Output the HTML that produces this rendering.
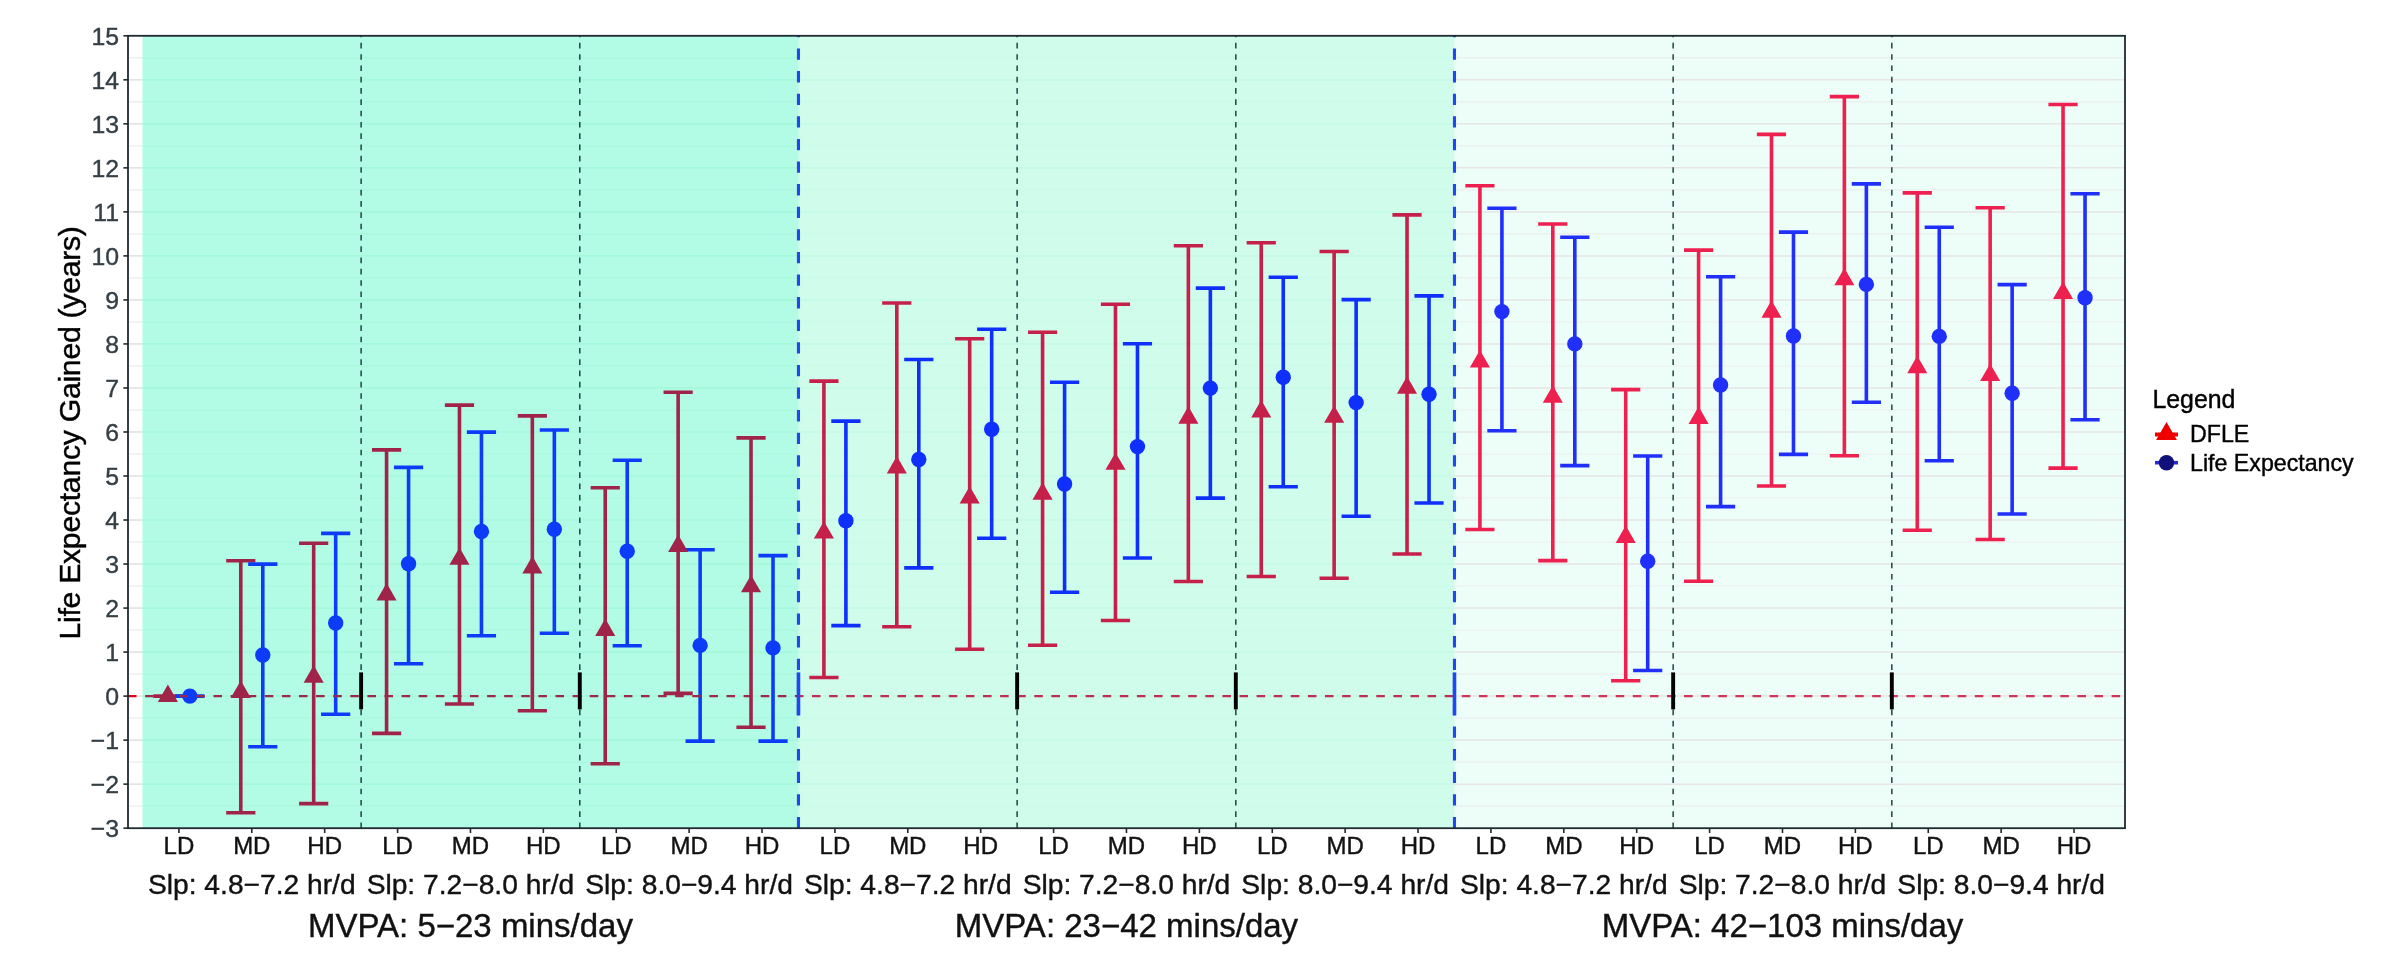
<!DOCTYPE html>
<html><head><meta charset="utf-8"><title>Life Expectancy Gained</title>
<style>
html,body{margin:0;padding:0;background:#fff;}
body{width:2395px;height:964px;overflow:hidden;font-family:"Liberation Sans",sans-serif;}
svg{will-change:transform;}
svg text{font-family:"Liberation Sans",sans-serif;stroke-width:.4px;paint-order:stroke;}
</style></head><body>
<svg width="2395" height="964" viewBox="0 0 2395 964" style="display:block">
<rect width="2395" height="964" fill="#fff"/>
<rect x="142.46" y="35.8" width="656.01" height="792.40" fill="rgb(0,245,168)" fill-opacity="0.3"/>
<rect x="798.47" y="35.8" width="656.01" height="792.40" fill="rgb(0,240,154)" fill-opacity="0.185"/>
<rect x="1454.48" y="35.8" width="670.52" height="792.40" fill="rgb(0,242,150)" fill-opacity="0.075"/>
<g><line x1="128.00" x2="142.46" y1="806.15" y2="806.15" stroke="#EBEBEB" stroke-width="1.2"/><line x1="128.00" x2="142.46" y1="784.14" y2="784.14" stroke="#E4E4E4" stroke-width="1.7"/><line x1="128.00" x2="142.46" y1="762.13" y2="762.13" stroke="#EBEBEB" stroke-width="1.2"/><line x1="128.00" x2="142.46" y1="740.12" y2="740.12" stroke="#E4E4E4" stroke-width="1.7"/><line x1="128.00" x2="142.46" y1="718.11" y2="718.11" stroke="#EBEBEB" stroke-width="1.2"/><line x1="128.00" x2="142.46" y1="696.10" y2="696.10" stroke="#E4E4E4" stroke-width="1.7"/><line x1="128.00" x2="142.46" y1="674.09" y2="674.09" stroke="#EBEBEB" stroke-width="1.2"/><line x1="128.00" x2="142.46" y1="652.08" y2="652.08" stroke="#E4E4E4" stroke-width="1.7"/><line x1="128.00" x2="142.46" y1="630.07" y2="630.07" stroke="#EBEBEB" stroke-width="1.2"/><line x1="128.00" x2="142.46" y1="608.06" y2="608.06" stroke="#E4E4E4" stroke-width="1.7"/><line x1="128.00" x2="142.46" y1="586.05" y2="586.05" stroke="#EBEBEB" stroke-width="1.2"/><line x1="128.00" x2="142.46" y1="564.04" y2="564.04" stroke="#E4E4E4" stroke-width="1.7"/><line x1="128.00" x2="142.46" y1="542.03" y2="542.03" stroke="#EBEBEB" stroke-width="1.2"/><line x1="128.00" x2="142.46" y1="520.02" y2="520.02" stroke="#E4E4E4" stroke-width="1.7"/><line x1="128.00" x2="142.46" y1="498.01" y2="498.01" stroke="#EBEBEB" stroke-width="1.2"/><line x1="128.00" x2="142.46" y1="476.00" y2="476.00" stroke="#E4E4E4" stroke-width="1.7"/><line x1="128.00" x2="142.46" y1="453.99" y2="453.99" stroke="#EBEBEB" stroke-width="1.2"/><line x1="128.00" x2="142.46" y1="431.98" y2="431.98" stroke="#E4E4E4" stroke-width="1.7"/><line x1="128.00" x2="142.46" y1="409.97" y2="409.97" stroke="#EBEBEB" stroke-width="1.2"/><line x1="128.00" x2="142.46" y1="387.96" y2="387.96" stroke="#E4E4E4" stroke-width="1.7"/><line x1="128.00" x2="142.46" y1="365.95" y2="365.95" stroke="#EBEBEB" stroke-width="1.2"/><line x1="128.00" x2="142.46" y1="343.94" y2="343.94" stroke="#E4E4E4" stroke-width="1.7"/><line x1="128.00" x2="142.46" y1="321.93" y2="321.93" stroke="#EBEBEB" stroke-width="1.2"/><line x1="128.00" x2="142.46" y1="299.92" y2="299.92" stroke="#E4E4E4" stroke-width="1.7"/><line x1="128.00" x2="142.46" y1="277.91" y2="277.91" stroke="#EBEBEB" stroke-width="1.2"/><line x1="128.00" x2="142.46" y1="255.90" y2="255.90" stroke="#E4E4E4" stroke-width="1.7"/><line x1="128.00" x2="142.46" y1="233.89" y2="233.89" stroke="#EBEBEB" stroke-width="1.2"/><line x1="128.00" x2="142.46" y1="211.88" y2="211.88" stroke="#E4E4E4" stroke-width="1.7"/><line x1="128.00" x2="142.46" y1="189.87" y2="189.87" stroke="#EBEBEB" stroke-width="1.2"/><line x1="128.00" x2="142.46" y1="167.86" y2="167.86" stroke="#E4E4E4" stroke-width="1.7"/><line x1="128.00" x2="142.46" y1="145.85" y2="145.85" stroke="#EBEBEB" stroke-width="1.2"/><line x1="128.00" x2="142.46" y1="123.84" y2="123.84" stroke="#E4E4E4" stroke-width="1.7"/><line x1="128.00" x2="142.46" y1="101.83" y2="101.83" stroke="#EBEBEB" stroke-width="1.2"/><line x1="128.00" x2="142.46" y1="79.82" y2="79.82" stroke="#E4E4E4" stroke-width="1.7"/><line x1="128.00" x2="142.46" y1="57.81" y2="57.81" stroke="#EBEBEB" stroke-width="1.2"/></g>
<g><line x1="142.46" x2="798.47" y1="806.15" y2="806.15" stroke="rgb(169,250,222)" stroke-width="1.2"/><line x1="142.46" x2="798.47" y1="784.14" y2="784.14" stroke="rgb(165,249,219)" stroke-width="1.7"/><line x1="142.46" x2="798.47" y1="762.13" y2="762.13" stroke="rgb(169,250,222)" stroke-width="1.2"/><line x1="142.46" x2="798.47" y1="740.12" y2="740.12" stroke="rgb(165,249,219)" stroke-width="1.7"/><line x1="142.46" x2="798.47" y1="718.11" y2="718.11" stroke="rgb(169,250,222)" stroke-width="1.2"/><line x1="142.46" x2="798.47" y1="696.10" y2="696.10" stroke="rgb(165,249,219)" stroke-width="1.7"/><line x1="142.46" x2="798.47" y1="674.09" y2="674.09" stroke="rgb(169,250,222)" stroke-width="1.2"/><line x1="142.46" x2="798.47" y1="652.08" y2="652.08" stroke="rgb(165,249,219)" stroke-width="1.7"/><line x1="142.46" x2="798.47" y1="630.07" y2="630.07" stroke="rgb(169,250,222)" stroke-width="1.2"/><line x1="142.46" x2="798.47" y1="608.06" y2="608.06" stroke="rgb(165,249,219)" stroke-width="1.7"/><line x1="142.46" x2="798.47" y1="586.05" y2="586.05" stroke="rgb(169,250,222)" stroke-width="1.2"/><line x1="142.46" x2="798.47" y1="564.04" y2="564.04" stroke="rgb(165,249,219)" stroke-width="1.7"/><line x1="142.46" x2="798.47" y1="542.03" y2="542.03" stroke="rgb(169,250,222)" stroke-width="1.2"/><line x1="142.46" x2="798.47" y1="520.02" y2="520.02" stroke="rgb(165,249,219)" stroke-width="1.7"/><line x1="142.46" x2="798.47" y1="498.01" y2="498.01" stroke="rgb(169,250,222)" stroke-width="1.2"/><line x1="142.46" x2="798.47" y1="476.00" y2="476.00" stroke="rgb(165,249,219)" stroke-width="1.7"/><line x1="142.46" x2="798.47" y1="453.99" y2="453.99" stroke="rgb(169,250,222)" stroke-width="1.2"/><line x1="142.46" x2="798.47" y1="431.98" y2="431.98" stroke="rgb(165,249,219)" stroke-width="1.7"/><line x1="142.46" x2="798.47" y1="409.97" y2="409.97" stroke="rgb(169,250,222)" stroke-width="1.2"/><line x1="142.46" x2="798.47" y1="387.96" y2="387.96" stroke="rgb(165,249,219)" stroke-width="1.7"/><line x1="142.46" x2="798.47" y1="365.95" y2="365.95" stroke="rgb(169,250,222)" stroke-width="1.2"/><line x1="142.46" x2="798.47" y1="343.94" y2="343.94" stroke="rgb(165,249,219)" stroke-width="1.7"/><line x1="142.46" x2="798.47" y1="321.93" y2="321.93" stroke="rgb(169,250,222)" stroke-width="1.2"/><line x1="142.46" x2="798.47" y1="299.92" y2="299.92" stroke="rgb(165,249,219)" stroke-width="1.7"/><line x1="142.46" x2="798.47" y1="277.91" y2="277.91" stroke="rgb(169,250,222)" stroke-width="1.2"/><line x1="142.46" x2="798.47" y1="255.90" y2="255.90" stroke="rgb(165,249,219)" stroke-width="1.7"/><line x1="142.46" x2="798.47" y1="233.89" y2="233.89" stroke="rgb(169,250,222)" stroke-width="1.2"/><line x1="142.46" x2="798.47" y1="211.88" y2="211.88" stroke="rgb(165,249,219)" stroke-width="1.7"/><line x1="142.46" x2="798.47" y1="189.87" y2="189.87" stroke="rgb(169,250,222)" stroke-width="1.2"/><line x1="142.46" x2="798.47" y1="167.86" y2="167.86" stroke="rgb(165,249,219)" stroke-width="1.7"/><line x1="142.46" x2="798.47" y1="145.85" y2="145.85" stroke="rgb(169,250,222)" stroke-width="1.2"/><line x1="142.46" x2="798.47" y1="123.84" y2="123.84" stroke="rgb(165,249,219)" stroke-width="1.7"/><line x1="142.46" x2="798.47" y1="101.83" y2="101.83" stroke="rgb(169,250,222)" stroke-width="1.2"/><line x1="142.46" x2="798.47" y1="79.82" y2="79.82" stroke="rgb(165,249,219)" stroke-width="1.7"/><line x1="142.46" x2="798.47" y1="57.81" y2="57.81" stroke="rgb(169,250,222)" stroke-width="1.2"/></g>
<g><line x1="798.47" x2="1454.48" y1="806.15" y2="806.15" stroke="rgb(202,251,233)" stroke-width="1.2"/><line x1="798.47" x2="1454.48" y1="784.14" y2="784.14" stroke="rgb(198,250,231)" stroke-width="1.7"/><line x1="798.47" x2="1454.48" y1="762.13" y2="762.13" stroke="rgb(202,251,233)" stroke-width="1.2"/><line x1="798.47" x2="1454.48" y1="740.12" y2="740.12" stroke="rgb(198,250,231)" stroke-width="1.7"/><line x1="798.47" x2="1454.48" y1="718.11" y2="718.11" stroke="rgb(202,251,233)" stroke-width="1.2"/><line x1="798.47" x2="1454.48" y1="696.10" y2="696.10" stroke="rgb(198,250,231)" stroke-width="1.7"/><line x1="798.47" x2="1454.48" y1="674.09" y2="674.09" stroke="rgb(202,251,233)" stroke-width="1.2"/><line x1="798.47" x2="1454.48" y1="652.08" y2="652.08" stroke="rgb(198,250,231)" stroke-width="1.7"/><line x1="798.47" x2="1454.48" y1="630.07" y2="630.07" stroke="rgb(202,251,233)" stroke-width="1.2"/><line x1="798.47" x2="1454.48" y1="608.06" y2="608.06" stroke="rgb(198,250,231)" stroke-width="1.7"/><line x1="798.47" x2="1454.48" y1="586.05" y2="586.05" stroke="rgb(202,251,233)" stroke-width="1.2"/><line x1="798.47" x2="1454.48" y1="564.04" y2="564.04" stroke="rgb(198,250,231)" stroke-width="1.7"/><line x1="798.47" x2="1454.48" y1="542.03" y2="542.03" stroke="rgb(202,251,233)" stroke-width="1.2"/><line x1="798.47" x2="1454.48" y1="520.02" y2="520.02" stroke="rgb(198,250,231)" stroke-width="1.7"/><line x1="798.47" x2="1454.48" y1="498.01" y2="498.01" stroke="rgb(202,251,233)" stroke-width="1.2"/><line x1="798.47" x2="1454.48" y1="476.00" y2="476.00" stroke="rgb(198,250,231)" stroke-width="1.7"/><line x1="798.47" x2="1454.48" y1="453.99" y2="453.99" stroke="rgb(202,251,233)" stroke-width="1.2"/><line x1="798.47" x2="1454.48" y1="431.98" y2="431.98" stroke="rgb(198,250,231)" stroke-width="1.7"/><line x1="798.47" x2="1454.48" y1="409.97" y2="409.97" stroke="rgb(202,251,233)" stroke-width="1.2"/><line x1="798.47" x2="1454.48" y1="387.96" y2="387.96" stroke="rgb(198,250,231)" stroke-width="1.7"/><line x1="798.47" x2="1454.48" y1="365.95" y2="365.95" stroke="rgb(202,251,233)" stroke-width="1.2"/><line x1="798.47" x2="1454.48" y1="343.94" y2="343.94" stroke="rgb(198,250,231)" stroke-width="1.7"/><line x1="798.47" x2="1454.48" y1="321.93" y2="321.93" stroke="rgb(202,251,233)" stroke-width="1.2"/><line x1="798.47" x2="1454.48" y1="299.92" y2="299.92" stroke="rgb(198,250,231)" stroke-width="1.7"/><line x1="798.47" x2="1454.48" y1="277.91" y2="277.91" stroke="rgb(202,251,233)" stroke-width="1.2"/><line x1="798.47" x2="1454.48" y1="255.90" y2="255.90" stroke="rgb(198,250,231)" stroke-width="1.7"/><line x1="798.47" x2="1454.48" y1="233.89" y2="233.89" stroke="rgb(202,251,233)" stroke-width="1.2"/><line x1="798.47" x2="1454.48" y1="211.88" y2="211.88" stroke="rgb(198,250,231)" stroke-width="1.7"/><line x1="798.47" x2="1454.48" y1="189.87" y2="189.87" stroke="rgb(202,251,233)" stroke-width="1.2"/><line x1="798.47" x2="1454.48" y1="167.86" y2="167.86" stroke="rgb(198,250,231)" stroke-width="1.7"/><line x1="798.47" x2="1454.48" y1="145.85" y2="145.85" stroke="rgb(202,251,233)" stroke-width="1.2"/><line x1="798.47" x2="1454.48" y1="123.84" y2="123.84" stroke="rgb(198,250,231)" stroke-width="1.7"/><line x1="798.47" x2="1454.48" y1="101.83" y2="101.83" stroke="rgb(202,251,233)" stroke-width="1.2"/><line x1="798.47" x2="1454.48" y1="79.82" y2="79.82" stroke="rgb(198,250,231)" stroke-width="1.7"/><line x1="798.47" x2="1454.48" y1="57.81" y2="57.81" stroke="rgb(202,251,233)" stroke-width="1.2"/></g>
<g><line x1="1454.48" x2="2125.00" y1="806.15" y2="806.15" stroke="rgb(235,237,237)" stroke-width="1.1"/><line x1="1454.48" x2="2125.00" y1="784.14" y2="784.14" stroke="rgb(231,228,230)" stroke-width="1.5"/><line x1="1454.48" x2="2125.00" y1="762.13" y2="762.13" stroke="rgb(235,237,237)" stroke-width="1.1"/><line x1="1454.48" x2="2125.00" y1="740.12" y2="740.12" stroke="rgb(231,228,230)" stroke-width="1.5"/><line x1="1454.48" x2="2125.00" y1="718.11" y2="718.11" stroke="rgb(235,237,237)" stroke-width="1.1"/><line x1="1454.48" x2="2125.00" y1="696.10" y2="696.10" stroke="rgb(231,228,230)" stroke-width="1.5"/><line x1="1454.48" x2="2125.00" y1="674.09" y2="674.09" stroke="rgb(235,237,237)" stroke-width="1.1"/><line x1="1454.48" x2="2125.00" y1="652.08" y2="652.08" stroke="rgb(231,228,230)" stroke-width="1.5"/><line x1="1454.48" x2="2125.00" y1="630.07" y2="630.07" stroke="rgb(235,237,237)" stroke-width="1.1"/><line x1="1454.48" x2="2125.00" y1="608.06" y2="608.06" stroke="rgb(231,228,230)" stroke-width="1.5"/><line x1="1454.48" x2="2125.00" y1="586.05" y2="586.05" stroke="rgb(235,237,237)" stroke-width="1.1"/><line x1="1454.48" x2="2125.00" y1="564.04" y2="564.04" stroke="rgb(231,228,230)" stroke-width="1.5"/><line x1="1454.48" x2="2125.00" y1="542.03" y2="542.03" stroke="rgb(235,237,237)" stroke-width="1.1"/><line x1="1454.48" x2="2125.00" y1="520.02" y2="520.02" stroke="rgb(231,228,230)" stroke-width="1.5"/><line x1="1454.48" x2="2125.00" y1="498.01" y2="498.01" stroke="rgb(235,237,237)" stroke-width="1.1"/><line x1="1454.48" x2="2125.00" y1="476.00" y2="476.00" stroke="rgb(231,228,230)" stroke-width="1.5"/><line x1="1454.48" x2="2125.00" y1="453.99" y2="453.99" stroke="rgb(235,237,237)" stroke-width="1.1"/><line x1="1454.48" x2="2125.00" y1="431.98" y2="431.98" stroke="rgb(231,228,230)" stroke-width="1.5"/><line x1="1454.48" x2="2125.00" y1="409.97" y2="409.97" stroke="rgb(235,237,237)" stroke-width="1.1"/><line x1="1454.48" x2="2125.00" y1="387.96" y2="387.96" stroke="rgb(231,228,230)" stroke-width="1.5"/><line x1="1454.48" x2="2125.00" y1="365.95" y2="365.95" stroke="rgb(235,237,237)" stroke-width="1.1"/><line x1="1454.48" x2="2125.00" y1="343.94" y2="343.94" stroke="rgb(231,228,230)" stroke-width="1.5"/><line x1="1454.48" x2="2125.00" y1="321.93" y2="321.93" stroke="rgb(235,237,237)" stroke-width="1.1"/><line x1="1454.48" x2="2125.00" y1="299.92" y2="299.92" stroke="rgb(231,228,230)" stroke-width="1.5"/><line x1="1454.48" x2="2125.00" y1="277.91" y2="277.91" stroke="rgb(235,237,237)" stroke-width="1.1"/><line x1="1454.48" x2="2125.00" y1="255.90" y2="255.90" stroke="rgb(231,228,230)" stroke-width="1.5"/><line x1="1454.48" x2="2125.00" y1="233.89" y2="233.89" stroke="rgb(235,237,237)" stroke-width="1.1"/><line x1="1454.48" x2="2125.00" y1="211.88" y2="211.88" stroke="rgb(231,228,230)" stroke-width="1.5"/><line x1="1454.48" x2="2125.00" y1="189.87" y2="189.87" stroke="rgb(235,237,237)" stroke-width="1.1"/><line x1="1454.48" x2="2125.00" y1="167.86" y2="167.86" stroke="rgb(231,228,230)" stroke-width="1.5"/><line x1="1454.48" x2="2125.00" y1="145.85" y2="145.85" stroke="rgb(235,237,237)" stroke-width="1.1"/><line x1="1454.48" x2="2125.00" y1="123.84" y2="123.84" stroke="rgb(231,228,230)" stroke-width="1.5"/><line x1="1454.48" x2="2125.00" y1="101.83" y2="101.83" stroke="rgb(235,237,237)" stroke-width="1.1"/><line x1="1454.48" x2="2125.00" y1="79.82" y2="79.82" stroke="rgb(231,228,230)" stroke-width="1.5"/><line x1="1454.48" x2="2125.00" y1="57.81" y2="57.81" stroke="rgb(235,237,237)" stroke-width="1.1"/></g>
<line x1="361.12" x2="361.12" y1="828.2" y2="35.8" stroke="#1E4448" stroke-width="1.5" stroke-dasharray="5.65 5.65"/>
<line x1="579.79" x2="579.79" y1="828.2" y2="35.8" stroke="#1E4448" stroke-width="1.5" stroke-dasharray="5.65 5.65"/>
<line x1="1017.13" x2="1017.13" y1="828.2" y2="35.8" stroke="#1E4448" stroke-width="1.5" stroke-dasharray="5.65 5.65"/>
<line x1="1235.81" x2="1235.81" y1="828.2" y2="35.8" stroke="#1E4448" stroke-width="1.5" stroke-dasharray="5.65 5.65"/>
<line x1="1673.15" x2="1673.15" y1="828.2" y2="35.8" stroke="#1E4448" stroke-width="1.5" stroke-dasharray="5.65 5.65"/>
<line x1="1891.82" x2="1891.82" y1="828.2" y2="35.8" stroke="#1E4448" stroke-width="1.5" stroke-dasharray="5.65 5.65"/>
<line x1="798.47" x2="798.47" y1="828.2" y2="35.8" stroke="#1F48F0" stroke-width="3.1" stroke-dasharray="11.3 11.3"/>
<line x1="1454.48" x2="1454.48" y1="828.2" y2="35.8" stroke="#1F48F0" stroke-width="3.1" stroke-dasharray="11.3 11.3"/>
<path d="M167.90 696.10V696.10M153.30 696.10H182.50M153.30 696.10H182.50" stroke="#A0244A" stroke-width="3.6" fill="none"/>
<path d="M189.90 696.10V696.10M175.30 696.10H204.50M175.30 696.10H204.50" stroke="#0D3CF8" stroke-width="3.6" fill="none"/>
<path d="M167.90 684.50L177.95 701.90H157.85Z" fill="#A0244A"/>
<circle cx="189.90" cy="696.10" r="7.7" fill="#0D3CF8"/>
<path d="M240.79 560.80V812.70M226.19 560.80H255.39M226.19 812.70H255.39" stroke="#A0244A" stroke-width="3.6" fill="none"/>
<path d="M262.79 564.10V746.70M248.19 564.10H277.39M248.19 746.70H277.39" stroke="#0D3CF8" stroke-width="3.6" fill="none"/>
<path d="M240.79 680.60L250.84 698.00H230.74Z" fill="#A0244A"/>
<circle cx="262.79" cy="655.00" r="7.7" fill="#0D3CF8"/>
<path d="M313.68 543.30V803.60M299.08 543.30H328.28M299.08 803.60H328.28" stroke="#A0244A" stroke-width="3.6" fill="none"/>
<path d="M335.68 533.40V714.30M321.08 533.40H350.28M321.08 714.30H350.28" stroke="#0D3CF8" stroke-width="3.6" fill="none"/>
<path d="M313.68 665.30L323.73 682.70H303.63Z" fill="#A0244A"/>
<circle cx="335.68" cy="623.00" r="7.7" fill="#0D3CF8"/>
<path d="M386.57 449.90V733.40M371.97 449.90H401.17M371.97 733.40H401.17" stroke="#A0244A" stroke-width="3.6" fill="none"/>
<path d="M408.57 467.40V663.70M393.97 467.40H423.17M393.97 663.70H423.17" stroke="#0D3CF8" stroke-width="3.6" fill="none"/>
<path d="M386.57 583.10L396.62 600.50H376.52Z" fill="#A0244A"/>
<circle cx="408.57" cy="563.70" r="7.7" fill="#0D3CF8"/>
<path d="M459.46 405.10V704.00M444.86 405.10H474.06M444.86 704.00H474.06" stroke="#A0244A" stroke-width="3.6" fill="none"/>
<path d="M481.46 432.10V635.70M466.86 432.10H496.06M466.86 635.70H496.06" stroke="#0D3CF8" stroke-width="3.6" fill="none"/>
<path d="M459.46 547.40L469.51 564.80H449.41Z" fill="#A0244A"/>
<circle cx="481.46" cy="531.50" r="7.7" fill="#0D3CF8"/>
<path d="M532.35 415.90V710.80M517.75 415.90H546.95M517.75 710.80H546.95" stroke="#A0244A" stroke-width="3.6" fill="none"/>
<path d="M554.35 430.00V633.20M539.75 430.00H568.95M539.75 633.20H568.95" stroke="#0D3CF8" stroke-width="3.6" fill="none"/>
<path d="M532.35 556.10L542.40 573.50H522.30Z" fill="#A0244A"/>
<circle cx="554.35" cy="529.30" r="7.7" fill="#0D3CF8"/>
<path d="M605.24 487.80V763.70M590.64 487.80H619.84M590.64 763.70H619.84" stroke="#A0244A" stroke-width="3.6" fill="none"/>
<path d="M627.24 460.30V645.80M612.64 460.30H641.84M612.64 645.80H641.84" stroke="#0D3CF8" stroke-width="3.6" fill="none"/>
<path d="M605.24 618.60L615.29 636.00H595.19Z" fill="#A0244A"/>
<circle cx="627.24" cy="551.30" r="7.7" fill="#0D3CF8"/>
<path d="M678.13 392.30V693.40M663.53 392.30H692.73M663.53 693.40H692.73" stroke="#A0244A" stroke-width="3.6" fill="none"/>
<path d="M700.13 549.80V741.10M685.53 549.80H714.73M685.53 741.10H714.73" stroke="#0D3CF8" stroke-width="3.6" fill="none"/>
<path d="M678.13 534.60L688.18 552.00H668.08Z" fill="#A0244A"/>
<circle cx="700.13" cy="645.40" r="7.7" fill="#0D3CF8"/>
<path d="M751.02 437.90V727.20M736.42 437.90H765.62M736.42 727.20H765.62" stroke="#A0244A" stroke-width="3.6" fill="none"/>
<path d="M773.02 555.60V741.10M758.42 555.60H787.62M758.42 741.10H787.62" stroke="#0D3CF8" stroke-width="3.6" fill="none"/>
<path d="M751.02 574.90L761.07 592.30H740.97Z" fill="#A0244A"/>
<circle cx="773.02" cy="647.90" r="7.7" fill="#0D3CF8"/>
<path d="M823.91 381.10V677.50M809.31 381.10H838.51M809.31 677.50H838.51" stroke="#C42049" stroke-width="3.6" fill="none"/>
<path d="M845.91 421.10V625.60M831.31 421.10H860.51M831.31 625.60H860.51" stroke="#0F30FA" stroke-width="3.6" fill="none"/>
<path d="M823.91 521.20L833.96 538.60H813.86Z" fill="#C42049"/>
<circle cx="845.91" cy="520.80" r="7.7" fill="#0F30FA"/>
<path d="M896.80 303.00V626.70M882.20 303.00H911.40M882.20 626.70H911.40" stroke="#C42049" stroke-width="3.6" fill="none"/>
<path d="M918.80 359.50V567.90M904.20 359.50H933.40M904.20 567.90H933.40" stroke="#0F30FA" stroke-width="3.6" fill="none"/>
<path d="M896.80 456.10L906.85 473.50H886.75Z" fill="#C42049"/>
<circle cx="918.80" cy="459.50" r="7.7" fill="#0F30FA"/>
<path d="M969.69 338.70V649.30M955.09 338.70H984.29M955.09 649.30H984.29" stroke="#C42049" stroke-width="3.6" fill="none"/>
<path d="M991.69 329.20V538.30M977.09 329.20H1006.29M977.09 538.30H1006.29" stroke="#0F30FA" stroke-width="3.6" fill="none"/>
<path d="M969.69 486.20L979.74 503.60H959.64Z" fill="#C42049"/>
<circle cx="991.69" cy="429.20" r="7.7" fill="#0F30FA"/>
<path d="M1042.58 332.20V645.20M1027.98 332.20H1057.18M1027.98 645.20H1057.18" stroke="#C42049" stroke-width="3.6" fill="none"/>
<path d="M1064.58 382.30V592.30M1049.98 382.30H1079.18M1049.98 592.30H1079.18" stroke="#0F30FA" stroke-width="3.6" fill="none"/>
<path d="M1042.58 482.30L1052.63 499.70H1032.53Z" fill="#C42049"/>
<circle cx="1064.58" cy="484.00" r="7.7" fill="#0F30FA"/>
<path d="M1115.47 304.30V620.50M1100.87 304.30H1130.07M1100.87 620.50H1130.07" stroke="#C42049" stroke-width="3.6" fill="none"/>
<path d="M1137.47 343.70V558.00M1122.87 343.70H1152.07M1122.87 558.00H1152.07" stroke="#0F30FA" stroke-width="3.6" fill="none"/>
<path d="M1115.47 452.40L1125.52 469.80H1105.42Z" fill="#C42049"/>
<circle cx="1137.47" cy="446.60" r="7.7" fill="#0F30FA"/>
<path d="M1188.36 245.70V581.50M1173.76 245.70H1202.96M1173.76 581.50H1202.96" stroke="#C42049" stroke-width="3.6" fill="none"/>
<path d="M1210.36 288.10V498.10M1195.76 288.10H1224.96M1195.76 498.10H1224.96" stroke="#0F30FA" stroke-width="3.6" fill="none"/>
<path d="M1188.36 406.30L1198.41 423.70H1178.31Z" fill="#C42049"/>
<circle cx="1210.36" cy="388.10" r="7.7" fill="#0F30FA"/>
<path d="M1261.25 242.80V576.50M1246.65 242.80H1275.85M1246.65 576.50H1275.85" stroke="#C42049" stroke-width="3.6" fill="none"/>
<path d="M1283.25 277.20V486.80M1268.65 277.20H1297.85M1268.65 486.80H1297.85" stroke="#0F30FA" stroke-width="3.6" fill="none"/>
<path d="M1261.25 400.00L1271.30 417.40H1251.20Z" fill="#C42049"/>
<circle cx="1283.25" cy="377.30" r="7.7" fill="#0F30FA"/>
<path d="M1334.14 251.50V578.20M1319.54 251.50H1348.74M1319.54 578.20H1348.74" stroke="#C42049" stroke-width="3.6" fill="none"/>
<path d="M1356.14 299.60V516.30M1341.54 299.60H1370.74M1341.54 516.30H1370.74" stroke="#0F30FA" stroke-width="3.6" fill="none"/>
<path d="M1334.14 405.40L1344.19 422.80H1324.09Z" fill="#C42049"/>
<circle cx="1356.14" cy="402.60" r="7.7" fill="#0F30FA"/>
<path d="M1407.03 214.90V554.00M1392.43 214.90H1421.63M1392.43 554.00H1421.63" stroke="#C42049" stroke-width="3.6" fill="none"/>
<path d="M1429.03 295.90V503.00M1414.43 295.90H1443.63M1414.43 503.00H1443.63" stroke="#0F30FA" stroke-width="3.6" fill="none"/>
<path d="M1407.03 376.30L1417.08 393.70H1396.98Z" fill="#C42049"/>
<circle cx="1429.03" cy="394.30" r="7.7" fill="#0F30FA"/>
<path d="M1479.92 185.80V529.50M1465.32 185.80H1494.52M1465.32 529.50H1494.52" stroke="#EE2050" stroke-width="3.6" fill="none"/>
<path d="M1501.92 208.20V430.70M1487.32 208.20H1516.52M1487.32 430.70H1516.52" stroke="#2030FA" stroke-width="3.6" fill="none"/>
<path d="M1479.92 350.10L1489.97 367.50H1469.87Z" fill="#EE2050"/>
<circle cx="1501.92" cy="311.60" r="7.7" fill="#2030FA"/>
<path d="M1552.81 224.00V560.60M1538.21 224.00H1567.41M1538.21 560.60H1567.41" stroke="#EE2050" stroke-width="3.6" fill="none"/>
<path d="M1574.81 237.20V465.60M1560.21 237.20H1589.41M1560.21 465.60H1589.41" stroke="#2030FA" stroke-width="3.6" fill="none"/>
<path d="M1552.81 385.40L1562.86 402.80H1542.76Z" fill="#EE2050"/>
<circle cx="1574.81" cy="343.90" r="7.7" fill="#2030FA"/>
<path d="M1625.70 389.60V680.80M1611.10 389.60H1640.30M1611.10 680.80H1640.30" stroke="#EE2050" stroke-width="3.6" fill="none"/>
<path d="M1647.70 456.00V670.50M1633.10 456.00H1662.30M1633.10 670.50H1662.30" stroke="#2030FA" stroke-width="3.6" fill="none"/>
<path d="M1625.70 525.60L1635.75 543.00H1615.65Z" fill="#EE2050"/>
<circle cx="1647.70" cy="561.20" r="7.7" fill="#2030FA"/>
<path d="M1698.59 250.10V581.20M1683.99 250.10H1713.19M1683.99 581.20H1713.19" stroke="#EE2050" stroke-width="3.6" fill="none"/>
<path d="M1720.59 276.70V506.60M1705.99 276.70H1735.19M1705.99 506.60H1735.19" stroke="#2030FA" stroke-width="3.6" fill="none"/>
<path d="M1698.59 406.50L1708.64 423.90H1688.54Z" fill="#EE2050"/>
<circle cx="1720.59" cy="385.00" r="7.7" fill="#2030FA"/>
<path d="M1771.48 134.40V486.00M1756.88 134.40H1786.08M1756.88 486.00H1786.08" stroke="#EE2050" stroke-width="3.6" fill="none"/>
<path d="M1793.48 232.10V454.40M1778.88 232.10H1808.08M1778.88 454.40H1808.08" stroke="#2030FA" stroke-width="3.6" fill="none"/>
<path d="M1771.48 300.30L1781.53 317.70H1761.43Z" fill="#EE2050"/>
<circle cx="1793.48" cy="336.00" r="7.7" fill="#2030FA"/>
<path d="M1844.37 96.60V455.80M1829.77 96.60H1858.97M1829.77 455.80H1858.97" stroke="#EE2050" stroke-width="3.6" fill="none"/>
<path d="M1866.37 183.90V402.20M1851.77 183.90H1880.97M1851.77 402.20H1880.97" stroke="#2030FA" stroke-width="3.6" fill="none"/>
<path d="M1844.37 267.90L1854.42 285.30H1834.32Z" fill="#EE2050"/>
<circle cx="1866.37" cy="284.40" r="7.7" fill="#2030FA"/>
<path d="M1917.26 192.90V530.20M1902.66 192.90H1931.86M1902.66 530.20H1931.86" stroke="#EE2050" stroke-width="3.6" fill="none"/>
<path d="M1939.26 227.30V460.80M1924.66 227.30H1953.86M1924.66 460.80H1953.86" stroke="#2030FA" stroke-width="3.6" fill="none"/>
<path d="M1917.26 355.80L1927.31 373.20H1907.21Z" fill="#EE2050"/>
<circle cx="1939.26" cy="336.40" r="7.7" fill="#2030FA"/>
<path d="M1990.15 207.80V539.50M1975.55 207.80H2004.75M1975.55 539.50H2004.75" stroke="#EE2050" stroke-width="3.6" fill="none"/>
<path d="M2012.15 284.60V514.00M1997.55 284.60H2026.75M1997.55 514.00H2026.75" stroke="#2030FA" stroke-width="3.6" fill="none"/>
<path d="M1990.15 363.70L2000.20 381.10H1980.10Z" fill="#EE2050"/>
<circle cx="2012.15" cy="393.30" r="7.7" fill="#2030FA"/>
<path d="M2063.04 104.50V468.10M2048.44 104.50H2077.64M2048.44 468.10H2077.64" stroke="#EE2050" stroke-width="3.6" fill="none"/>
<path d="M2085.04 193.70V419.80M2070.44 193.70H2099.64M2070.44 419.80H2099.64" stroke="#2030FA" stroke-width="3.6" fill="none"/>
<path d="M2063.04 281.60L2073.09 299.00H2052.99Z" fill="#EE2050"/>
<circle cx="2085.04" cy="297.80" r="7.7" fill="#2030FA"/>
<defs>
<clipPath id="c0"><rect x="128.0" y="0" width="14.46" height="964"/></clipPath>
<clipPath id="c1"><rect x="142.46" y="0" width="656.01" height="964"/></clipPath>
<clipPath id="c2"><rect x="798.47" y="0" width="656.01" height="964"/></clipPath>
<clipPath id="c3"><rect x="1454.48" y="0" width="670.52" height="964"/></clipPath>
</defs>
<line x1="128.0" x2="2125.0" y1="696.1" y2="696.1" stroke="#E0001A" stroke-width="2.3" stroke-dasharray="8.55 8.55" clip-path="url(#c0)"/>
<line x1="128.0" x2="2125.0" y1="696.1" y2="696.1" stroke="#9C2848" stroke-width="2.3" stroke-dasharray="8.55 8.55" clip-path="url(#c1)"/>
<line x1="128.0" x2="2125.0" y1="696.1" y2="696.1" stroke="#BE2C50" stroke-width="2.3" stroke-dasharray="8.55 8.55" clip-path="url(#c2)"/>
<line x1="128.0" x2="2125.0" y1="696.1" y2="696.1" stroke="#D03459" stroke-width="2.3" stroke-dasharray="8.55 8.55" clip-path="url(#c3)"/>
<line x1="361.12" x2="361.12" y1="672.4" y2="709.4" stroke="#000" stroke-width="3.9"/>
<line x1="579.79" x2="579.79" y1="672.4" y2="709.4" stroke="#000" stroke-width="3.9"/>
<line x1="1017.13" x2="1017.13" y1="672.4" y2="709.4" stroke="#000" stroke-width="3.9"/>
<line x1="1235.81" x2="1235.81" y1="672.4" y2="709.4" stroke="#000" stroke-width="3.9"/>
<line x1="1673.15" x2="1673.15" y1="672.4" y2="709.4" stroke="#000" stroke-width="3.9"/>
<line x1="1891.82" x2="1891.82" y1="672.4" y2="709.4" stroke="#000" stroke-width="3.9"/>
<line x1="798.47" x2="798.47" y1="672.4" y2="715.4" stroke="#1F48F0" stroke-width="3.6"/>
<line x1="1454.48" x2="1454.48" y1="672.4" y2="715.4" stroke="#1F48F0" stroke-width="3.6"/>
<rect x="128.0" y="35.8" width="1997.0" height="792.40" fill="none" stroke="#1E2A30" stroke-width="1.8"/>
<line x1="123.4" x2="128.0" y1="828.16" y2="828.16" stroke="#1E2A30" stroke-width="1.6"/>
<text x="119.1" y="836.86" text-anchor="end" font-size="24.8" fill="#333E45" stroke="#333E45">−3</text>
<line x1="123.4" x2="128.0" y1="784.14" y2="784.14" stroke="#1E2A30" stroke-width="1.6"/>
<text x="119.1" y="792.84" text-anchor="end" font-size="24.8" fill="#333E45" stroke="#333E45">−2</text>
<line x1="123.4" x2="128.0" y1="740.12" y2="740.12" stroke="#1E2A30" stroke-width="1.6"/>
<text x="119.1" y="748.82" text-anchor="end" font-size="24.8" fill="#333E45" stroke="#333E45">−1</text>
<line x1="123.4" x2="128.0" y1="696.10" y2="696.10" stroke="#1E2A30" stroke-width="1.6"/>
<text x="119.1" y="704.80" text-anchor="end" font-size="24.8" fill="#333E45" stroke="#333E45">0</text>
<line x1="123.4" x2="128.0" y1="652.08" y2="652.08" stroke="#1E2A30" stroke-width="1.6"/>
<text x="119.1" y="660.78" text-anchor="end" font-size="24.8" fill="#333E45" stroke="#333E45">1</text>
<line x1="123.4" x2="128.0" y1="608.06" y2="608.06" stroke="#1E2A30" stroke-width="1.6"/>
<text x="119.1" y="616.76" text-anchor="end" font-size="24.8" fill="#333E45" stroke="#333E45">2</text>
<line x1="123.4" x2="128.0" y1="564.04" y2="564.04" stroke="#1E2A30" stroke-width="1.6"/>
<text x="119.1" y="572.74" text-anchor="end" font-size="24.8" fill="#333E45" stroke="#333E45">3</text>
<line x1="123.4" x2="128.0" y1="520.02" y2="520.02" stroke="#1E2A30" stroke-width="1.6"/>
<text x="119.1" y="528.72" text-anchor="end" font-size="24.8" fill="#333E45" stroke="#333E45">4</text>
<line x1="123.4" x2="128.0" y1="476.00" y2="476.00" stroke="#1E2A30" stroke-width="1.6"/>
<text x="119.1" y="484.70" text-anchor="end" font-size="24.8" fill="#333E45" stroke="#333E45">5</text>
<line x1="123.4" x2="128.0" y1="431.98" y2="431.98" stroke="#1E2A30" stroke-width="1.6"/>
<text x="119.1" y="440.68" text-anchor="end" font-size="24.8" fill="#333E45" stroke="#333E45">6</text>
<line x1="123.4" x2="128.0" y1="387.96" y2="387.96" stroke="#1E2A30" stroke-width="1.6"/>
<text x="119.1" y="396.66" text-anchor="end" font-size="24.8" fill="#333E45" stroke="#333E45">7</text>
<line x1="123.4" x2="128.0" y1="343.94" y2="343.94" stroke="#1E2A30" stroke-width="1.6"/>
<text x="119.1" y="352.64" text-anchor="end" font-size="24.8" fill="#333E45" stroke="#333E45">8</text>
<line x1="123.4" x2="128.0" y1="299.92" y2="299.92" stroke="#1E2A30" stroke-width="1.6"/>
<text x="119.1" y="308.62" text-anchor="end" font-size="24.8" fill="#333E45" stroke="#333E45">9</text>
<line x1="123.4" x2="128.0" y1="255.90" y2="255.90" stroke="#1E2A30" stroke-width="1.6"/>
<text x="119.1" y="264.60" text-anchor="end" font-size="24.8" fill="#333E45" stroke="#333E45">10</text>
<line x1="123.4" x2="128.0" y1="211.88" y2="211.88" stroke="#1E2A30" stroke-width="1.6"/>
<text x="119.1" y="220.58" text-anchor="end" font-size="24.8" fill="#333E45" stroke="#333E45">11</text>
<line x1="123.4" x2="128.0" y1="167.86" y2="167.86" stroke="#1E2A30" stroke-width="1.6"/>
<text x="119.1" y="176.56" text-anchor="end" font-size="24.8" fill="#333E45" stroke="#333E45">12</text>
<line x1="123.4" x2="128.0" y1="123.84" y2="123.84" stroke="#1E2A30" stroke-width="1.6"/>
<text x="119.1" y="132.54" text-anchor="end" font-size="24.8" fill="#333E45" stroke="#333E45">13</text>
<line x1="123.4" x2="128.0" y1="79.82" y2="79.82" stroke="#1E2A30" stroke-width="1.6"/>
<text x="119.1" y="88.52" text-anchor="end" font-size="24.8" fill="#333E45" stroke="#333E45">14</text>
<line x1="123.4" x2="128.0" y1="35.80" y2="35.80" stroke="#1E2A30" stroke-width="1.6"/>
<text x="119.1" y="44.50" text-anchor="end" font-size="24.8" fill="#333E45" stroke="#333E45">15</text>
<line x1="178.90" x2="178.90" y1="828.2" y2="833.0" stroke="#1E2A30" stroke-width="1.6"/>
<text x="178.90" y="853.6" text-anchor="middle" font-size="24" fill="#111" stroke="#111">LD</text>
<line x1="251.79" x2="251.79" y1="828.2" y2="833.0" stroke="#1E2A30" stroke-width="1.6"/>
<text x="251.79" y="853.6" text-anchor="middle" font-size="24" fill="#111" stroke="#111">MD</text>
<line x1="324.68" x2="324.68" y1="828.2" y2="833.0" stroke="#1E2A30" stroke-width="1.6"/>
<text x="324.68" y="853.6" text-anchor="middle" font-size="24" fill="#111" stroke="#111">HD</text>
<line x1="397.57" x2="397.57" y1="828.2" y2="833.0" stroke="#1E2A30" stroke-width="1.6"/>
<text x="397.57" y="853.6" text-anchor="middle" font-size="24" fill="#111" stroke="#111">LD</text>
<line x1="470.46" x2="470.46" y1="828.2" y2="833.0" stroke="#1E2A30" stroke-width="1.6"/>
<text x="470.46" y="853.6" text-anchor="middle" font-size="24" fill="#111" stroke="#111">MD</text>
<line x1="543.35" x2="543.35" y1="828.2" y2="833.0" stroke="#1E2A30" stroke-width="1.6"/>
<text x="543.35" y="853.6" text-anchor="middle" font-size="24" fill="#111" stroke="#111">HD</text>
<line x1="616.24" x2="616.24" y1="828.2" y2="833.0" stroke="#1E2A30" stroke-width="1.6"/>
<text x="616.24" y="853.6" text-anchor="middle" font-size="24" fill="#111" stroke="#111">LD</text>
<line x1="689.13" x2="689.13" y1="828.2" y2="833.0" stroke="#1E2A30" stroke-width="1.6"/>
<text x="689.13" y="853.6" text-anchor="middle" font-size="24" fill="#111" stroke="#111">MD</text>
<line x1="762.02" x2="762.02" y1="828.2" y2="833.0" stroke="#1E2A30" stroke-width="1.6"/>
<text x="762.02" y="853.6" text-anchor="middle" font-size="24" fill="#111" stroke="#111">HD</text>
<line x1="834.91" x2="834.91" y1="828.2" y2="833.0" stroke="#1E2A30" stroke-width="1.6"/>
<text x="834.91" y="853.6" text-anchor="middle" font-size="24" fill="#111" stroke="#111">LD</text>
<line x1="907.80" x2="907.80" y1="828.2" y2="833.0" stroke="#1E2A30" stroke-width="1.6"/>
<text x="907.80" y="853.6" text-anchor="middle" font-size="24" fill="#111" stroke="#111">MD</text>
<line x1="980.69" x2="980.69" y1="828.2" y2="833.0" stroke="#1E2A30" stroke-width="1.6"/>
<text x="980.69" y="853.6" text-anchor="middle" font-size="24" fill="#111" stroke="#111">HD</text>
<line x1="1053.58" x2="1053.58" y1="828.2" y2="833.0" stroke="#1E2A30" stroke-width="1.6"/>
<text x="1053.58" y="853.6" text-anchor="middle" font-size="24" fill="#111" stroke="#111">LD</text>
<line x1="1126.47" x2="1126.47" y1="828.2" y2="833.0" stroke="#1E2A30" stroke-width="1.6"/>
<text x="1126.47" y="853.6" text-anchor="middle" font-size="24" fill="#111" stroke="#111">MD</text>
<line x1="1199.36" x2="1199.36" y1="828.2" y2="833.0" stroke="#1E2A30" stroke-width="1.6"/>
<text x="1199.36" y="853.6" text-anchor="middle" font-size="24" fill="#111" stroke="#111">HD</text>
<line x1="1272.25" x2="1272.25" y1="828.2" y2="833.0" stroke="#1E2A30" stroke-width="1.6"/>
<text x="1272.25" y="853.6" text-anchor="middle" font-size="24" fill="#111" stroke="#111">LD</text>
<line x1="1345.14" x2="1345.14" y1="828.2" y2="833.0" stroke="#1E2A30" stroke-width="1.6"/>
<text x="1345.14" y="853.6" text-anchor="middle" font-size="24" fill="#111" stroke="#111">MD</text>
<line x1="1418.03" x2="1418.03" y1="828.2" y2="833.0" stroke="#1E2A30" stroke-width="1.6"/>
<text x="1418.03" y="853.6" text-anchor="middle" font-size="24" fill="#111" stroke="#111">HD</text>
<line x1="1490.92" x2="1490.92" y1="828.2" y2="833.0" stroke="#1E2A30" stroke-width="1.6"/>
<text x="1490.92" y="853.6" text-anchor="middle" font-size="24" fill="#111" stroke="#111">LD</text>
<line x1="1563.81" x2="1563.81" y1="828.2" y2="833.0" stroke="#1E2A30" stroke-width="1.6"/>
<text x="1563.81" y="853.6" text-anchor="middle" font-size="24" fill="#111" stroke="#111">MD</text>
<line x1="1636.70" x2="1636.70" y1="828.2" y2="833.0" stroke="#1E2A30" stroke-width="1.6"/>
<text x="1636.70" y="853.6" text-anchor="middle" font-size="24" fill="#111" stroke="#111">HD</text>
<line x1="1709.59" x2="1709.59" y1="828.2" y2="833.0" stroke="#1E2A30" stroke-width="1.6"/>
<text x="1709.59" y="853.6" text-anchor="middle" font-size="24" fill="#111" stroke="#111">LD</text>
<line x1="1782.48" x2="1782.48" y1="828.2" y2="833.0" stroke="#1E2A30" stroke-width="1.6"/>
<text x="1782.48" y="853.6" text-anchor="middle" font-size="24" fill="#111" stroke="#111">MD</text>
<line x1="1855.37" x2="1855.37" y1="828.2" y2="833.0" stroke="#1E2A30" stroke-width="1.6"/>
<text x="1855.37" y="853.6" text-anchor="middle" font-size="24" fill="#111" stroke="#111">HD</text>
<line x1="1928.26" x2="1928.26" y1="828.2" y2="833.0" stroke="#1E2A30" stroke-width="1.6"/>
<text x="1928.26" y="853.6" text-anchor="middle" font-size="24" fill="#111" stroke="#111">LD</text>
<line x1="2001.15" x2="2001.15" y1="828.2" y2="833.0" stroke="#1E2A30" stroke-width="1.6"/>
<text x="2001.15" y="853.6" text-anchor="middle" font-size="24" fill="#111" stroke="#111">MD</text>
<line x1="2074.04" x2="2074.04" y1="828.2" y2="833.0" stroke="#1E2A30" stroke-width="1.6"/>
<text x="2074.04" y="853.6" text-anchor="middle" font-size="24" fill="#111" stroke="#111">HD</text>
<text x="251.79" y="893.6" text-anchor="middle" font-size="28.2" fill="#111" stroke="#111">Slp: 4.8−7.2 hr/d</text>
<text x="470.46" y="893.6" text-anchor="middle" font-size="28.2" fill="#111" stroke="#111">Slp: 7.2−8.0 hr/d</text>
<text x="689.13" y="893.6" text-anchor="middle" font-size="28.2" fill="#111" stroke="#111">Slp: 8.0−9.4 hr/d</text>
<text x="907.80" y="893.6" text-anchor="middle" font-size="28.2" fill="#111" stroke="#111">Slp: 4.8−7.2 hr/d</text>
<text x="1126.47" y="893.6" text-anchor="middle" font-size="28.2" fill="#111" stroke="#111">Slp: 7.2−8.0 hr/d</text>
<text x="1345.14" y="893.6" text-anchor="middle" font-size="28.2" fill="#111" stroke="#111">Slp: 8.0−9.4 hr/d</text>
<text x="1563.81" y="893.6" text-anchor="middle" font-size="28.2" fill="#111" stroke="#111">Slp: 4.8−7.2 hr/d</text>
<text x="1782.48" y="893.6" text-anchor="middle" font-size="28.2" fill="#111" stroke="#111">Slp: 7.2−8.0 hr/d</text>
<text x="2001.15" y="893.6" text-anchor="middle" font-size="28.2" fill="#111" stroke="#111">Slp: 8.0−9.4 hr/d</text>
<text x="470.46" y="937" text-anchor="middle" font-size="33" fill="#111" stroke="#111">MVPA: 5−23 mins/day</text>
<text x="1126.47" y="937" text-anchor="middle" font-size="33" fill="#111" stroke="#111">MVPA: 23−42 mins/day</text>
<text x="1782.48" y="937" text-anchor="middle" font-size="33" fill="#111" stroke="#111">MVPA: 42−103 mins/day</text>
<text transform="translate(80.0 432.8) rotate(-90)" text-anchor="middle" font-size="30.3" textLength="413.5" lengthAdjust="spacing" fill="#000" stroke="#000">Life Expectancy Gained (years)</text>
<text x="2152.4" y="407.8" font-size="24.9" fill="#000" stroke="#000">Legend</text>
<line x1="2155" x2="2178" y1="434.5" y2="434.5" stroke="#EE0000" stroke-width="4"/>
<path d="M2166.5 422.00L2176.89 440.00H2156.11Z" fill="#EE0000"/>
<text x="2190" y="441.8" font-size="23.2" fill="#000" stroke="#000">DFLE</text>
<line x1="2155" x2="2178" y1="462.7" y2="462.7" stroke="#2A2AD0" stroke-width="3.6"/>
<circle cx="2166.5" cy="462.7" r="7.7" fill="#10107A"/>
<text x="2190" y="471.2" font-size="23.2" fill="#000" stroke="#000">Life Expectancy</text>
</svg>
</body></html>
